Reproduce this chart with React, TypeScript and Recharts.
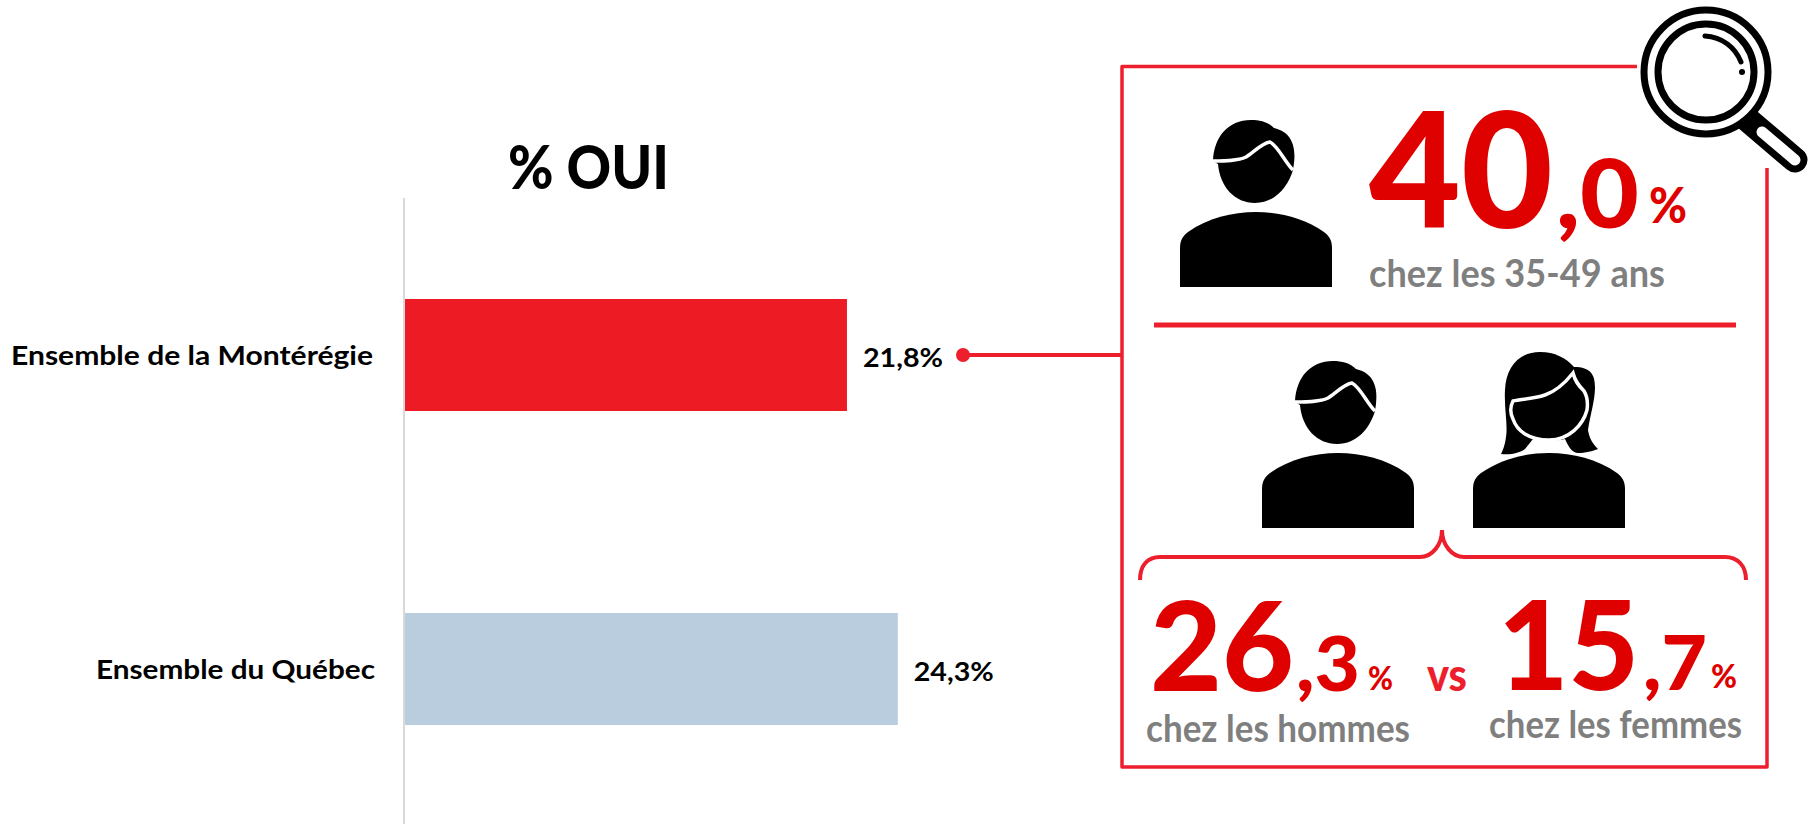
import React from "react";
import { Bar, BarChart, Cell, LabelList, XAxis, YAxis } from "recharts";

const categories = ["Ensemble de la Montérégie", "Ensemble du Québec"];
const oui = [21.8, 24.3];
const barColors = ["#ED1C24", "#B9CDDF"];

const panelWhole = ["40", "26", "15"];
const panelDecimal = [",0", ",3", ",7"];
const panelCaptions = ["chez les 35-49 ans", "chez les hommes", "chez les femmes"];

const data = categories.map((name, i) => ({ name, oui: oui[i] }));

const FONT = "Lato, sans-serif";
const PANEL_RED = "#EE1F2D";
const NUM_RED = "#DF0000";
const GRAY = "#7F7F7F";

// squeezes Lato down to the narrower widths of the original font
function FitText({ x, y, w, size, fill = "#000", weight = 700, children }: any) {
  return (
    <text
      x={x}
      y={y}
      textLength={w}
      lengthAdjust="spacingAndGlyphs"
      fontFamily={FONT}
      fontWeight={weight}
      fontSize={size}
      fill={fill}
    >
      {children}
    </text>
  );
}

const tickSpans = [
  { x: 11, w: 362 },
  { x: 96, w: 279 },
];

function CategoryTick({ y, index, payload }: any) {
  const span = tickSpans[index];
  return (
    <FitText x={span.x} y={y + 10} w={span.w} size={27}>
      {payload.value}
    </FitText>
  );
}

function ValueLabel({ x, y, width, height, value }: any) {
  return (
    <FitText x={x + width + 16} y={y + height / 2 + 12} w={80} size={27}>
      {String(value).replace(".", ",") + "%"}
    </FitText>
  );
}

const BODY = "M0,75 V36 C0,28 3,24 8,20 C28,6 52,0 76,0 C100,0 124,6 144,20 C149,24 152,28 152,36 V75 Z";

function Man({ x, y }: { x: number; y: number }) {
  return (
    <g transform={`translate(${x},${y})`}>
      <path d={BODY} fill="#000" />
      <path
        d="M38,-48 C40,-25 55,-9 75,-9 C95,-9 108,-25 113,-42 L114,-49 C116,-65 112,-80 94,-84 C88,-90 80,-92 71,-92 C48,-92 34,-75 33,-51 Z"
        fill="#000"
      />
      <path
        d="M33,-51 C45,-51 58,-51 66,-55 C74,-60 82,-69 90,-70 C98,-66 105,-50 113,-42"
        fill="none"
        stroke="#fff"
        strokeWidth={3.5}
      />
    </g>
  );
}

function Woman({ x, y }: { x: number; y: number }) {
  return (
    <g transform={`translate(${x},${y})`}>
      <path d={BODY} fill="#000" />
      <path
        d="M67,-101 C45,-101 33,-85 32,-63 C31,-45 35,-28 33,-16 C32,-8 30,-3 28,1 C38,2 47,0 52,-4 L60,-14 C68,-12 84,-12 92,-14 C96,-5 100,0 105,0 C112,0 120,-2 125,-4 C119,-10 116,-16 115,-23 C117,-38 122,-52 122,-66 C122,-78 118,-86 101,-86 C93,-95 82,-101 67,-101 Z"
        fill="#000"
      />
      <path
        d="M100,-80 C92,-70 84,-62 72,-58 C60,-54 48,-54 40,-52 C37,-46 37,-40 40,-34 C44,-22 56,-13 76,-13 C96,-13 110,-28 114,-43 C115,-50 114,-57 111,-62 C105,-68 102,-72 100,-80 Z"
        fill="none"
        stroke="#fff"
        strokeWidth={3.5}
      />
    </g>
  );
}

function Magnifier() {
  return (
    <g fill="none">
      <line x1={1748} y1={120} x2={1795} y2={160} stroke="#000" strokeWidth={25} strokeLinecap="round" />
      <line x1={1762} y1={132} x2={1795} y2={160} stroke="#fff" strokeWidth={11} strokeLinecap="round" />
      <circle cx={1706} cy={72} r={62} fill="#fff" stroke="#000" strokeWidth={7} />
      <circle cx={1706} cy={72} r={48} stroke="#000" strokeWidth={7} />
      <path d="M1705,36 C1722,37 1735,47 1741,62" stroke="#000" strokeWidth={5} strokeLinecap="round" />
      <circle cx={1742} cy={72} r={3} fill="#000" />
    </g>
  );
}

function Panel() {
  return (
    <svg
      width={1808}
      height={824}
      style={{ position: "absolute", left: 0, top: 0, pointerEvents: "none" }}
    >
      <FitText x={508} y={189} w={161} size={60} weight={900}>% OUI</FitText>

      <line x1={963} y1={355} x2={1122} y2={355} stroke={PANEL_RED} strokeWidth={4} />
      <circle cx={963} cy={355} r={7} fill={PANEL_RED} />

      <path
        d="M1637,66.5 H1122 V767 H1767 V168"
        fill="none"
        stroke={PANEL_RED}
        strokeWidth={3.5}
        strokeLinejoin="round"
      />
      <line x1={1154} y1={325} x2={1736} y2={325} stroke={PANEL_RED} strokeWidth={5} />
      <path
        d="M1140,580 C1140,566 1147,557 1160,557 H1420 C1432,557 1442,545 1442,530 C1442,545 1452,557 1464,557 H1725 C1738,557 1746,566 1746,580"
        fill="none"
        stroke={PANEL_RED}
        strokeWidth={4}
      />

      <Magnifier />
      <Man x={1180} y={212} />
      <Man x={1262} y={453} />
      <Woman x={1473} y={453} />

      <FitText x={1369} y={228} w={184} size={160} fill={NUM_RED} weight={900}>{panelWhole[0]}</FitText>
      <FitText x={1556} y={228} w={83} size={96} fill={NUM_RED} weight={900}>{panelDecimal[0]}</FitText>
      <FitText x={1649} y={223} w={38} size={50} fill={NUM_RED} weight={900}>%</FitText>
      <FitText x={1369} y={287} w={296} size={38} fill={GRAY}>{panelCaptions[0]}</FitText>

      <FitText x={1150} y={691} w={144} size={124} fill={NUM_RED} weight={900}>{panelWhole[1]}</FitText>
      <FitText x={1296} y={691} w={64} size={77} fill={NUM_RED} weight={900}>{panelDecimal[1]}</FitText>
      <FitText x={1368} y={690} w={25} size={33} fill={NUM_RED} weight={900}>%</FitText>
      <FitText x={1427} y={691} w={40} size={46} fill={PANEL_RED} weight={900}>vs</FitText>
      <FitText x={1498} y={690} w={141} size={124} fill={NUM_RED} weight={900}>{panelWhole[2]}</FitText>
      <FitText x={1643} y={690} w={64} size={77} fill={NUM_RED} weight={900}>{panelDecimal[2]}</FitText>
      <FitText x={1711} y={688} w={26} size={33} fill={NUM_RED} weight={900}>%</FitText>
      <FitText x={1146} y={742} w={264} size={38} fill={GRAY}>{panelCaptions[1]}</FitText>
      <FitText x={1489} y={738} w={253} size={38} fill={GRAY}>{panelCaptions[2]}</FitText>
    </svg>
  );
}

export default function App() {
  return (
    <div style={{ position: "absolute", left: 0, top: 0, width: 1808, height: 824, background: "#fff", overflow: "hidden" }}>
      <BarChart
        width={1808}
        height={826}
        data={data}
        layout="vertical"
        margin={{ top: 198, right: 388, bottom: 0, left: 0 }}
      >
        <XAxis type="number" domain={[0, 50]} hide />
        <YAxis
          type="category"
          dataKey="name"
          width={404}
          interval={0}
          tickLine={false}
          axisLine={{ stroke: "#D9D9D9", strokeWidth: 2 }}
          tick={<CategoryTick />}
        />
        <Bar dataKey="oui" barSize={112} isAnimationActive={false}>
          {data.map((d, i) => (
            <Cell key={d.name} fill={barColors[i]} />
          ))}
          <LabelList dataKey="oui" content={<ValueLabel />} />
        </Bar>
      </BarChart>
      <Panel />
    </div>
  );
}
